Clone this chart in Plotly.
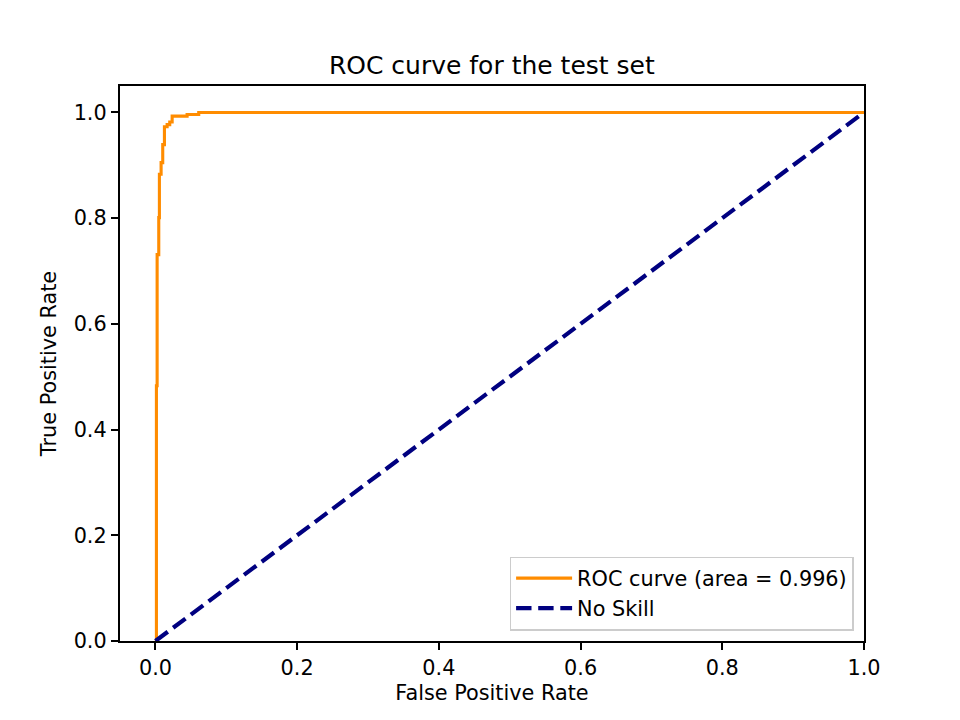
import plotly.graph_objects as go

# ROC curve vertices (step curve)
fpr = [0.0, 0.0014, 0.0014, 0.0024, 0.0024, 0.0047, 0.0047, 0.0056, 0.0056,
       0.0080, 0.0080, 0.0103, 0.0103, 0.0127, 0.0127, 0.0165, 0.0165,
       0.0202, 0.0202, 0.0236, 0.0236, 0.0447, 0.0447, 0.0611, 0.0611, 1.0]
tpr = [0.0, 0.0, 0.483, 0.483, 0.731, 0.731, 0.801, 0.801, 0.883,
       0.883, 0.905, 0.905, 0.939, 0.939, 0.973, 0.973, 0.977,
       0.977, 0.982, 0.982, 0.993, 0.993, 0.996, 0.996, 1.0, 1.0]
roc_auc = 0.996

# no-skill diagonal
skill_x = [0.0, 1.0]
skill_y = [0.0, 1.0]

tick_vals = [0.0, 0.2, 0.4, 0.6, 0.8, 1.0]
tick_text = ['0.0', '0.2', '0.4', '0.6', '0.8', '1.0']

font = 'DejaVu Sans, Verdana, sans-serif'
fs = 20.8  # 10pt at 150 dpi

fig = go.Figure()

fig.add_trace(go.Scatter(
    x=fpr, y=tpr,
    mode='lines',
    name='ROC curve (area = %0.3f)' % roc_auc,
    line=dict(color='#FF8C00', width=3.1),
))

fig.add_trace(go.Scatter(
    x=skill_x, y=skill_y,
    mode='lines',
    name='No Skill',
    line=dict(color='#000080', width=4.2, dash='15.4px,6.7px'),
))

axis_style = dict(
    showgrid=False,
    zeroline=False,
    showline=True,
    linecolor='black',
    linewidth=1.67,
    mirror=True,
    ticks='outside',
    ticklen=7.3,
    tickwidth=1.67,
    tickcolor='black',
    tickvals=tick_vals,
    ticktext=tick_text,
    tickfont=dict(family=font, size=fs, color='black'),
)

fig.update_layout(
    width=960,
    height=720,
    paper_bgcolor='white',
    plot_bgcolor='white',
    margin=dict(l=112, r=104, t=78.4, b=87.2),
    title=dict(
        text='ROC curve for the test set',
        x=0.504, xanchor='center',
        y=0.921, yanchor='middle',
        font=dict(family=font, size=25, color='black'),
    ),
    xaxis=dict(
        axis_style,
        range=[-0.05, 1.0],
        title=dict(text='False Positive Rate', standoff=6,
                   font=dict(family=font, size=fs, color='black')),
    ),
    yaxis=dict(
        axis_style,
        range=[0.0, 1.05],
        title=dict(text='True Positive Rate', standoff=11,
                   font=dict(family=font, size=fs, color='black')),
    ),
    legend=dict(
        x=1 - 10.4 / 744, xanchor='right',
        y=10.4 / 555, yanchor='bottom',
        bgcolor='rgba(255,255,255,0.8)',
        bordercolor='#cccccc',
        borderwidth=1.5,
        itemwidth=56,
        font=dict(family=font, size=fs, color='black'),
    ),
    showlegend=True,
)

fig.write_html('out.html')
